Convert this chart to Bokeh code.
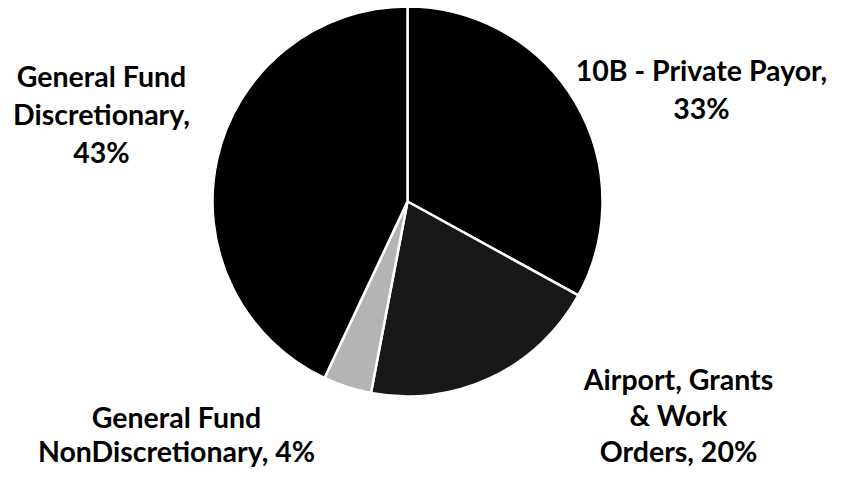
import math
from bokeh.plotting import figure
from bokeh.models import ColumnDataSource, Range1d
from bokeh.core.properties import value
from bokeh.embed import file_html
from bokeh.resources import INLINE

# ---- data ----
categories = ["10B - Private Payor", "Airport, Grants & Work Orders",
              "General Fund NonDiscretionary", "General Fund Discretionary"]
shares = [33, 20, 4, 43]
label_lines = [
    ["10B - Private Payor,", "33%"],
    ["Airport, Grants", "& Work", "Orders, 20%"],
    ["General Fund", "NonDiscretionary, 4%"],
    ["General Fund", "Discretionary,", "43%"],
]

# ---- style / layout ----
colors = ["#000000", "#181818", "#b4b4b4", "#000000"]
W, H = 829, 469
cx, cy_s, R = 407, 201, 195
# label centre x, first baseline y (picture px), line spacing
label_pos = [(701, 69), (678, 378), (176, 416), (101, 75)]
line_gaps = [38, 36, 34, 38]

def ys(screen_y):
    return H - screen_y

total = sum(shares)
starts, ends = [], []
cum = 0.0
for s in shares:
    a0 = math.pi / 2 - 2 * math.pi * (cum + s) / total
    a1 = math.pi / 2 - 2 * math.pi * cum / total
    starts.append(a0)
    ends.append(a1)
    cum += s

src = ColumnDataSource(dict(cat=categories, share=shares, start=starts, end=ends,
                            color=colors, x=[cx] * 4, y=[ys(cy_s)] * 4))

p = figure(width=W, height=H, output_backend="svg", toolbar_location=None,
           x_range=Range1d(0, W), y_range=Range1d(0, H),
           min_border=0, outline_line_color=None, background_fill_color="white",
           border_fill_color="white")
p.axis.visible = False
p.grid.visible = False

p.wedge(x="x", y="y", radius=R, start_angle="start", end_angle="end",
        direction="anticlock", fill_color="color", line_color="white",
        line_width=2.5, source=src)

tx, ty, tt = [], [], []
for (lx, ly), gap, lines in zip(label_pos, line_gaps, label_lines):
    for i, t in enumerate(lines):
        tx.append(lx)
        ty.append(ys(ly + i * gap))
        tt.append(t)

p.text(x=tx, y=ty, text=tt, text_align="center", text_baseline="alphabetic",
       text_font=value("Lato"), text_font_style="bold", text_font_size="28.5px",
       text_color="#000000")

open("out.html", "w").write(file_html(p, INLINE))
